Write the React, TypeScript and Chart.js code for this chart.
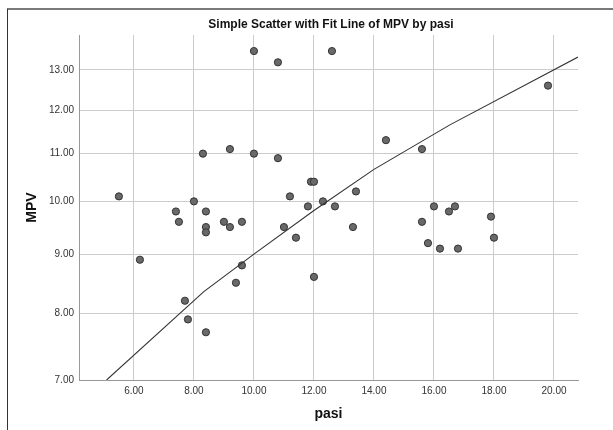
import React, { useEffect, useRef } from 'react';
import { Chart, registerables } from 'chart.js';

Chart.register(...registerables);

const TITLE = 'Simple Scatter with Fit Line of MPV by pasi';
const X_LABEL = 'pasi';
const Y_LABEL = 'MPV';

// observed points
const pasi = [5.5, 6.2, 7.4, 7.5, 7.7, 7.8, 8.0, 8.3, 8.4, 8.4, 8.4, 8.4, 9.0, 9.2, 9.2, 9.4, 9.6, 9.6, 10.0, 10.0, 10.8, 10.8, 11.0, 11.2, 11.4, 11.8, 11.9, 12.0, 12.0, 12.3, 12.6, 12.7, 13.3, 13.4, 14.4, 15.6, 15.6, 15.8, 16.0, 16.2, 16.5, 16.7, 16.8, 17.9, 18.0, 19.8];
const mpv = [10.1, 8.9, 9.8, 9.6, 8.2, 7.9, 10.0, 11.0, 9.8, 9.5, 9.4, 7.7, 9.6, 11.1, 9.5, 8.5, 9.6, 8.8, 13.5, 11.0, 13.2, 10.9, 9.5, 10.1, 9.3, 9.9, 10.4, 10.4, 8.6, 10.0, 13.5, 9.9, 9.5, 10.2, 11.3, 11.1, 9.6, 9.2, 9.9, 9.1, 9.8, 9.9, 9.1, 9.7, 9.3, 12.6];

// fit line vertices
const fitX = [5.09, 8.33, 10.0, 12.0, 14.0, 16.53, 20.8];
const fitY = [7.0, 8.35, 9.0, 9.82, 10.66, 11.65, 13.34];

// axis ticks
const xTicks = [6, 8, 10, 12, 14, 16, 18, 20];
const yTicks = [7, 8, 9, 10, 11, 12, 13];

const FONT = '"Liberation Sans", Arial, Helvetica, sans-serif';

const framePlugin = {
  id: 'frameAndTitle',
  beforeDraw(chart: any) {
    const ctx = chart.ctx;
    ctx.save();
    ctx.fillStyle = '#ffffff';
    ctx.fillRect(0, 0, chart.width, chart.height);
    ctx.strokeStyle = '#7a7a7a';
    ctx.lineWidth = 2;
    ctx.beginPath();
    ctx.moveTo(7, 9);
    ctx.lineTo(chart.width, 9);
    ctx.stroke();
    ctx.strokeStyle = '#333333';
    ctx.lineWidth = 1;
    ctx.beginPath();
    ctx.moveTo(7.5, 9);
    ctx.lineTo(7.5, chart.height);
    ctx.stroke();
    const ca = chart.chartArea;
    ctx.font = 'bold 12px ' + FONT;
    ctx.fillStyle = '#111111';
    ctx.textAlign = 'center';
    ctx.textBaseline = 'middle';
    ctx.fillText(TITLE, (ca.left + ca.right) / 2 + 2.5, 25);
    ctx.restore();
  },
};

export default function App() {
  const ref = useRef<HTMLCanvasElement | null>(null);

  useEffect(() => {
    if (!ref.current) return;
    const points = pasi.map((x, i) => ({ x, y: mpv[i] }));
    const fit = fitX.map((x, i) => ({ x, y: fitY[i] }));
    const chart = new Chart(ref.current, {
      type: 'scatter',
      data: {
        datasets: [
          {
            type: 'line',
            data: fit,
            borderColor: '#333333',
            borderWidth: 1.1,
            pointRadius: 0,
            fill: false,
            tension: 0,
            showLine: true,
          } as any,
          {
            data: points,
            pointRadius: 3.6,
            pointBackgroundColor: '#696969',
            pointBorderColor: '#333333',
            pointBorderWidth: 1,
          },
        ],
      },
      options: {
        animation: false,
        responsive: false,
        maintainAspectRatio: false,
        layout: { padding: { left: 0, right: 35, top: 35, bottom: 0 } },
        plugins: {
          legend: { display: false },
          tooltip: { enabled: false },
          title: { display: false },
        },
        scales: {
          x: {
            type: 'linear',
            min: 4.17,
            max: 20.8,
            afterBuildTicks: (s: any) => {
              s.ticks = xTicks.map((v) => ({ value: v }));
            },
            afterFit: (s: any) => {
              s.height = 50;
            },
            grid: { color: '#cccccc', lineWidth: 1, drawTicks: false },
            border: { color: '#999999', width: 1 },
            ticks: {
              padding: 5,
              color: '#333333',
              font: { family: FONT, size: 10 },
              maxRotation: 0,
              autoSkip: false,
              callback: (v: any) => Number(v).toFixed(2),
            },
            title: {
              display: true,
              text: X_LABEL,
              color: '#111111',
              font: { family: FONT, size: 14, weight: 'bold' },
              padding: { top: 0, bottom: 7 },
            },
          },
          y: {
            type: 'logarithmic',
            min: 7,
            max: 13.94,
            afterBuildTicks: (s: any) => {
              s.ticks = yTicks.map((v) => ({ value: v }));
            },
            afterFit: (s: any) => {
              s.width = 79;
            },
            grid: { color: '#cccccc', lineWidth: 1, drawTicks: false },
            border: { color: '#999999', width: 1 },
            ticks: {
              padding: 5,
              color: '#333333',
              font: { family: FONT, size: 10 },
              autoSkip: false,
              callback: (v: any) => Number(v).toFixed(2),
            },
            title: {
              display: true,
              text: Y_LABEL,
              color: '#111111',
              font: { family: FONT, size: 14, weight: 'bold' },
              padding: { top: 23.6, bottom: 0 },
            },
          },
        },
      } as any,
      plugins: [framePlugin],
    });
    return () => chart.destroy();
  }, []);

  return (
    <div style={{ position: 'fixed', left: 0, top: 0, width: 613, height: 430, background: '#fff' }}>
      <canvas ref={ref} width={613} height={430} style={{ display: 'block', width: 613, height: 430 }} />
    </div>
  );
}
